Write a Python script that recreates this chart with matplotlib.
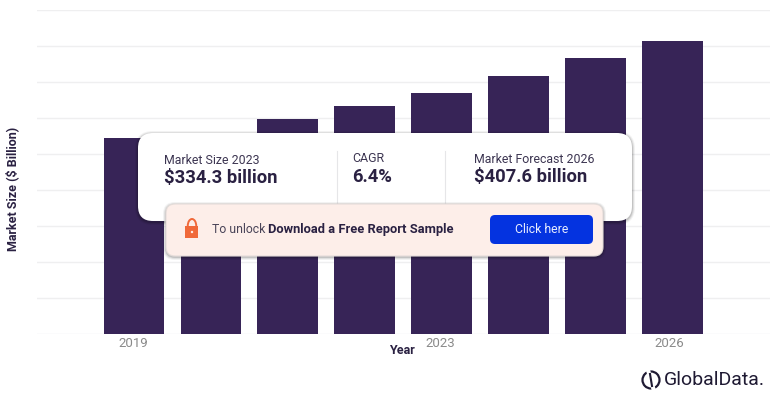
import matplotlib
matplotlib.use("Agg")
import matplotlib.pyplot as plt
from matplotlib.patches import FancyBboxPatch, Rectangle, Circle, Arc
from matplotlib.transforms import ScaledTranslation

plt.rcParams['font.family'] = ['Roboto', 'DejaVu Sans']

# 2020 sits behind the card, so it is a guess
years = [2019, 2020, 2021, 2022, 2023, 2024, 2025, 2026]
market_size = [272, 268, 298, 316, 334.3, 358, 383, 407.6]
tick_years = [2019, 2023, 2026]
y_ticks = [0, 50, 100, 150, 200, 250, 300, 350, 400, 450]

DARK = "#372457"
INK = "#2a2142"
W, H = 779, 393


def card(ax, x0, y0, x1, y1, color, radius, edge="none", z=5, shadow=True):
    """Rounded box in pixel coordinates, with a soft shadow."""
    if shadow:
        for grow, alpha in [(3.0, 0.05), (2.0, 0.08), (1.0, 0.12)]:
            ax.add_patch(FancyBboxPatch((x0 + radius, y0 + radius + 1),
                                        x1 - x0 - 2 * radius, y1 - y0 - 2 * radius,
                                        boxstyle=f"round,pad={radius + grow},rounding_size={radius + grow}",
                                        fc="black", ec="none", alpha=alpha, zorder=z))
    ax.add_patch(FancyBboxPatch((x0 + radius, y0 + radius),
                                x1 - x0 - 2 * radius, y1 - y0 - 2 * radius,
                                boxstyle=f"round,pad={radius},rounding_size={radius}",
                                fc=color, ec=edge, lw=0.8, zorder=z + 0.1))


fig = plt.figure(figsize=(W / 100, H / 100), dpi=100)

# chart axes
ax = fig.add_axes([37 / W, 1 - 334 / H, 733 / W, 324 / H])
ax.bar(years, market_size, width=0.79, color=DARK, zorder=3)
ax.set_xlim(2019 - 1.262, 2019 + 8.27)
ax.set_ylim(0, 450)
ax.set_yticks(y_ticks)
ax.set_yticklabels([])
ax.set_xticks(tick_years)
ax.set_xticklabels(tick_years, fontsize=9.5, color="#8a8a8a")
ax.tick_params(axis="both", length=0, pad=2)
ax.grid(axis="y", color="#efeff0", lw=1, zorder=0)
ax.set_axisbelow(True)
for s in ax.spines.values():
    s.set_visible(False)
# the reference labels drift a little left of the bar centres
for lab, dx in zip(ax.get_xticklabels(), [-1, -1, -3.5]):
    lab.set_transform(lab.get_transform() + ScaledTranslation(dx / 100, 0, fig.dpi_scale_trans))

fig.text(402 / W, 1 - 350.5 / H, "Year", fontsize=9, fontweight="bold", color=INK,
         ha="center", va="center")
fig.text(12 / W, 1 - 188.5 / H, "Market Size ($ Billion)", fontsize=9, fontweight="bold",
         color=INK, rotation=90, ha="center", va="center")

# overlay in pixel coordinates for the card and logo
ov = fig.add_axes([0, 0, 1, 1])
ov.set_xlim(0, W)
ov.set_ylim(H, 0)
ov.axis("off")
ov.patch.set_alpha(0)

card(ov, 138, 133, 632, 221, "white", 15)
ov.plot([337, 337], [151, 204], color="#e6e6e8", lw=0.8, zorder=6)
ov.plot([445, 445], [151, 204], color="#e6e6e8", lw=0.8, zorder=6)

ov.text(164, 160, "Market Size 2023", fontsize=8.9, color="#3d3652", va="center", zorder=7)
ov.text(164, 178, "$334.3 billion", fontsize=13.2, fontweight="bold", color=INK, va="center", zorder=7)
ov.text(352, 158.5, "CAGR", fontsize=8.9, color="#3d3652", va="center", zorder=7)
ov.text(352, 177, "6.4%", fontsize=13.2, fontweight="bold", color=INK, va="center", zorder=7)
ov.text(474, 159.5, "Market Forecast 2026", fontsize=8.9, color="#3d3652", va="center", zorder=7)
ov.text(474, 177, "$407.6 billion", fontsize=13.2, fontweight="bold", color=INK, va="center", zorder=7)

card(ov, 166, 204, 603, 256, "#fdeee9", 9, edge="#e4dcd9", z=8)
card(ov, 490, 215, 593, 244, "#0433e0", 5, z=9, shadow=False)
ov.text(541.5, 229.5, "Click here", fontsize=8.8, color="#e8edff", ha="center", va="center", zorder=10)

ov.text(212, 229.5, "To unlock", fontsize=8.8, color="#4a4458", va="center", zorder=10)
ov.text(268, 229.5, "Download a Free Report Sample", fontsize=9.25, fontweight="bold",
        color=INK, va="center", zorder=10)

# lock icon
ov.add_patch(Rectangle((185.5, 226), 13, 12, fc="#f0693a", ec="none", zorder=10))
ov.add_patch(Arc((192, 226), 8.5, 14, theta1=180, theta2=360, ec="#f0693a", lw=1.4, zorder=10))
ov.add_patch(Circle((192, 232), 1.2, fc="#fdeee9", ec="none", zorder=11))

# logo
ov.add_patch(Circle((651, 380), 8.5, fc="none", ec="#1f1a33", lw=1.6, zorder=7))
ov.plot([648, 654], [370, 391], color="white", lw=3, zorder=7.5)
ov.plot([650, 652], [374, 386], color="#1f1a33", lw=1.5, zorder=8)
ov.text(664, 380, "GlobalData.", fontsize=14, color="#1f1a33", va="center", zorder=7)

fig.savefig("out.png", dpi=100)
